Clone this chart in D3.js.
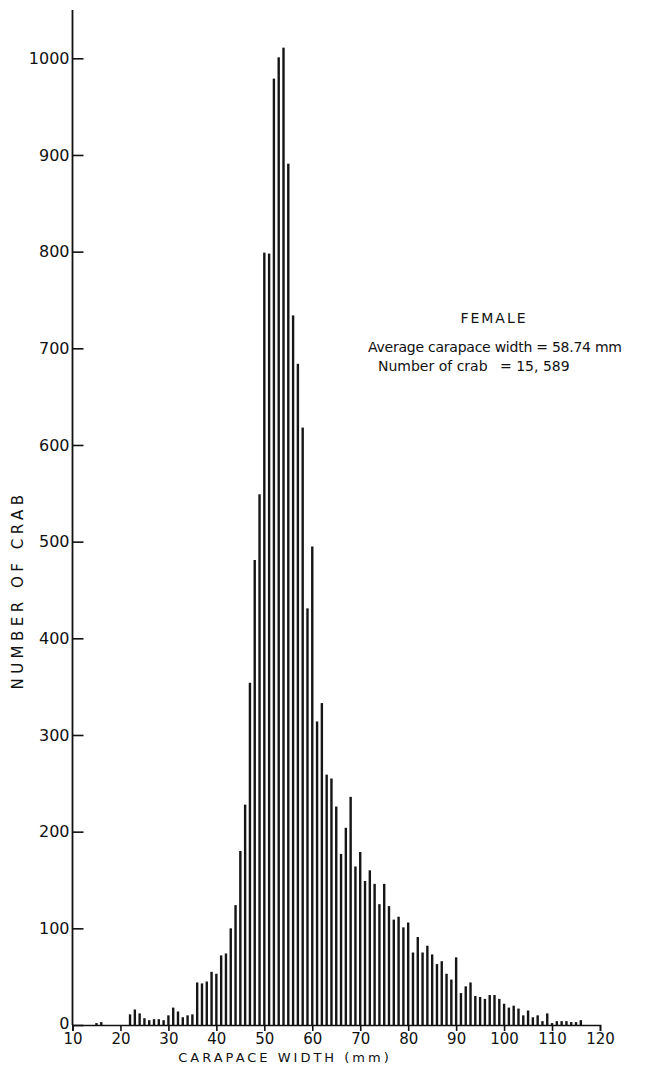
<!DOCTYPE html>
<html>
<head>
<meta charset="utf-8">
<script src="https://cdn.jsdelivr.net/npm/d3@7"></script>
<style>
body { margin: 0; background: #fff; }
text { font-family: "DejaVu Sans", sans-serif; fill: #111; }
</style>
</head>
<body>
<div id="chart"></div>
<script>
// carapace width classes (mm) and number of crab in each
var widths = [15, 16, 17, 18, 19, 20, 21, 22, 23, 24, 25, 26, 27, 28, 29, 30,
  31, 32, 33, 34, 35, 36, 37, 38, 39, 40, 41, 42, 43, 44, 45, 46, 47, 48, 49, 50,
  51, 52, 53, 54, 55, 56, 57, 58, 59, 60, 61, 62, 63, 64, 65, 66, 67, 68, 69, 70,
  71, 72, 73, 74, 75, 76, 77, 78, 79, 80, 81, 82, 83, 84, 85, 86, 87, 88, 89, 90,
  91, 92, 93, 94, 95, 96, 97, 98, 99, 100, 101, 102, 103, 104, 105, 106, 107, 108, 109, 110,
  111, 112, 113, 114, 115, 116];
var counts = [2, 3, 0, 0, 0, 0, 0, 11, 16, 12, 7, 5, 6, 6, 5, 10,
  18, 14, 8, 10, 11, 44, 43, 45, 55, 53, 72, 74, 100, 124, 180, 228, 354, 481, 549, 799,
  798, 979, 1001, 1011, 891, 734, 684, 618, 431, 495, 314, 333, 259, 255, 226, 177, 204, 236, 164, 179,
  149, 160, 146, 125, 146, 123, 109, 112, 101, 106, 75, 91, 75, 82, 73, 63, 66, 53, 47, 70,
  33, 40, 44, 30, 29, 27, 31, 31, 27, 22, 18, 20, 17, 10, 15, 8, 10, 4, 12, 2,
  4, 4, 4, 3, 3, 5];
var xTicks = [10, 20, 30, 40, 50, 60, 70, 80, 90, 100, 110, 120];
var yTicks = [0, 100, 200, 300, 400, 500, 600, 700, 800, 900, 1000];
var notes = ["FEMALE", "Average carapace width = 58.74 mm", "Number of crab", "= 15, 589"];

var width = 649, height = 1070;
var svg = d3.select("#chart").append("svg")
    .attr("width", width)
    .attr("height", height);

var x = d3.scaleLinear().domain([10, 120]).range([72.5, 600]);
var y = d3.scaleLinear().domain([0, 1000]).range([1025, 58.3]);

// bars - drawn as thin vertical strokes
svg.append("g")
  .selectAll("rect")
  .data(widths)
  .enter()
  .append("rect")
    .attr("x", function (d) { return x(d) - 1.2; })
    .attr("width", 2.4)
    .attr("y", function (d, i) { return y(counts[i]); })
    .attr("height", function (d, i) { return y(0) - y(counts[i]); })
    .attr("fill", "#151515");

// x axis
var xAxis = svg.append("g")
    .attr("transform", "translate(0," + y(0) + ")")
    .call(d3.axisBottom(x).tickValues(xTicks).tickSize(6).tickPadding(2).tickFormat(d3.format("d")));
xAxis.select(".domain").attr("stroke", "#111").attr("stroke-width", 1.6);
xAxis.selectAll(".tick line").attr("stroke", "#111").attr("stroke-width", 1.6);
xAxis.selectAll("text").attr("font-size", 15).style("font-family", "DejaVu Sans, sans-serif").attr("fill", "#111");

// y axis: ticks pointing inward (to the right), labels on the left
var yAxis = svg.append("g")
    .attr("transform", "translate(" + x(10) + ",0)")
    .call(d3.axisRight(y).tickValues(yTicks).tickSize(11).tickFormat(d3.format("d")));
yAxis.select(".domain").remove();
yAxis.selectAll(".tick line").attr("stroke", "#111").attr("stroke-width", 1.6);
yAxis.selectAll("text")
    .attr("x", -3)
    .attr("text-anchor", "end")
    .attr("font-size", 16)
    .style("font-family", "DejaVu Sans, sans-serif")
    .attr("fill", "#111");
yAxis.selectAll(".tick").filter(function (d) { return d === 0; }).select("text").attr("dy", "0.2em");

svg.append("line")
    .attr("x1", x(10)).attr("x2", x(10))
    .attr("y1", 10).attr("y2", y(0))
    .attr("stroke", "#111").attr("stroke-width", 1.8);

// axis titles
svg.append("text")
    .attr("x", 285)
    .attr("y", 1062)
    .attr("text-anchor", "middle")
    .attr("font-size", 13)
    .attr("letter-spacing", "3px")
    .text("CARAPACE WIDTH  (mm)");

svg.append("text")
    .attr("transform", "translate(23,590) rotate(-90)")
    .attr("text-anchor", "middle")
    .attr("font-size", 15)
    .attr("letter-spacing", "4.5px")
    .text("NUMBER  OF  CRAB");

// annotation
svg.append("text")
    .attr("x", 494).attr("y", 323)
    .attr("text-anchor", "middle")
    .attr("font-size", 14)
    .attr("letter-spacing", "2px")
    .text(notes[0]);
svg.append("text")
    .attr("x", 368).attr("y", 352)
    .attr("font-size", 14)
    .attr("textLength", 254)
    .text(notes[1]);
svg.append("text")
    .attr("x", 378).attr("y", 371)
    .attr("font-size", 14)
    .text(notes[2]);
svg.append("text")
    .attr("x", 500).attr("y", 371)
    .attr("font-size", 14)
    .text(notes[3]);
</script>
</body>
</html>
